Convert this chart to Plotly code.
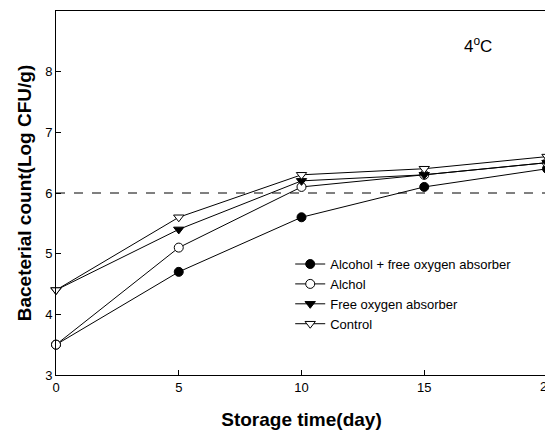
import plotly.graph_objects as go

days = [0, 5, 10, 15, 20]
alcohol_foa = [3.5, 4.7, 5.6, 6.1, 6.4]
alchol = [3.5, 5.1, 6.1, 6.3, 6.5]
foa = [4.4, 5.4, 6.2, 6.3, 6.5]
control = [4.4, 5.6, 6.3, 6.4, 6.6]
limit = 6
x_ticks = [0, 5, 10, 15, 20]
y_ticks = [3, 4, 5, 6, 7, 8, 9]

series = [
    ("Alcohol + free oxygen absorber", alcohol_foa, "circle", "black"),
    ("Alchol", alchol, "circle", "white"),
    ("Free oxygen absorber", foa, "triangle-down", "black"),
    ("Control", control, "triangle-down", "white"),
]

fig = go.Figure()
fig.add_trace(go.Scatter(x=[days[0], days[-1]], y=[limit, limit], mode="lines",
                         line=dict(color="black", width=1, dash="dash"),
                         showlegend=False, hoverinfo="skip"))
for name, ys, sym, fill in series:
    fig.add_trace(go.Scatter(
        x=days, y=ys, mode="lines+markers", name=name,
        line=dict(color="black", width=1),
        marker=dict(symbol=sym, size=9, color=fill,
                    line=dict(color="black", width=1)),
        cliponaxis=False,
    ))

fig.add_annotation(x=17.17, y=8.44, xref="x", yref="y",
                   text="4<sup>o</sup>C", showarrow=False,
                   font=dict(family="Arial, Liberation Sans", size=17, color="black"))
# last x tick label (drawn as annotation so it is not auto-hidden at the edge)
fig.add_annotation(x=x_ticks[-1], y=0, xref="x", yref="paper", yanchor="top",
                   yshift=-2, text=str(x_ticks[-1]), showarrow=False,
                   font=dict(family="Arial, Liberation Sans", size=13, color="black"))

fig.update_layout(
    width=545, height=431,
    margin=dict(l=48, r=6, t=3, b=64),
    paper_bgcolor="white", plot_bgcolor="white",
    font=dict(family="Arial, Liberation Sans", size=13, color="black"),
    legend=dict(x=0.477, y=0.346, xanchor="left", yanchor="top",
                bgcolor="rgba(0,0,0,0)", font=dict(size=13),
                tracegroupgap=0),
    xaxis=dict(range=[0, 20], tickvals=x_ticks,
               ticktext=[str(v) for v in x_ticks[:-1]] + [""],
               ticks="inside", ticklen=5, tickcolor="black",
               showline=True, linecolor="black", linewidth=1, mirror=True,
               showgrid=False, zeroline=False, automargin=False,
               title=dict(text="<b>Storage time(day)</b>", font=dict(size=19), standoff=19)),
    yaxis=dict(range=[3, 9], tickvals=y_ticks,
               ticks="inside", ticklen=5, tickcolor="black",
               showline=True, linecolor="black", linewidth=1, mirror=True,
               showgrid=False, zeroline=False, automargin=False,
               title=dict(text="<b>Baceterial count(Log CFU/g)</b>", font=dict(size=19), standoff=8)),
)

fig.write_html("out.html")
